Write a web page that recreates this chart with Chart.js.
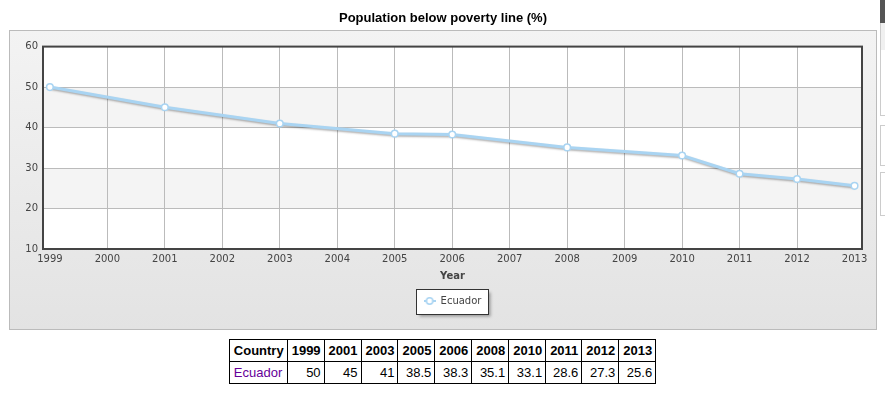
<!DOCTYPE html>
<html>
<head>
<meta charset="utf-8">
<script src="https://cdn.jsdelivr.net/npm/chart.js@4/dist/chart.umd.min.js"></script>
<style>
body { margin:0; background:#fff; width:885px; height:396px; overflow:hidden; position:relative; font-family:"Liberation Sans", Arial, sans-serif; }
#panel { position:absolute; left:9px; top:30px; width:866px; height:298px; border:1px solid #bbb; background:linear-gradient(#f3f3f3, #e3e3e3); }
#wrap { position:absolute; left:0; top:0; width:885px; height:330px; }
#tbl { position:absolute; left:0; top:339px; width:885px; }
table { margin:0 auto; border-collapse:collapse; font-size:13px; color:#000; }
th, td { border:1px solid #000; padding:2px 3px 2px 4px; line-height:17px; }
th { font-weight:bold; text-align:center; }
td { text-align:right; }
td.c { text-align:left; color:#660099; }
.edge { position:absolute; left:880px; width:5px; box-sizing:border-box; }
</style>
</head>
<body>
<div class="edge" style="top:0;height:23px;background:#555"></div>
<div class="edge" style="top:23px;height:93px;border-left:1px solid #ccc;border-bottom:1px solid #ccc;background:linear-gradient(#f0f0f0 0,#f0f0f0 27px,#fff 27px)"></div>
<div class="edge" style="top:125px;height:41px;border:1px solid #ccc;border-right:none"></div>
<div class="edge" style="top:172px;height:44px;border:1px solid #ccc;border-right:none"></div>
<div id="panel"></div>
<div id="wrap"><canvas id="chart" width="885" height="330"></canvas></div>
<div id="tbl"></div>
<script>
// ===== DATA =====
const seriesName = 'Ecuador';
const years = [1999, 2001, 2003, 2005, 2006, 2008, 2010, 2011, 2012, 2013];
const values = [50, 45, 41, 38.5, 38.3, 35.1, 33.1, 28.6, 27.3, 25.6];
const xTicks = [1999, 2000, 2001, 2002, 2003, 2004, 2005, 2006, 2007, 2008, 2009, 2010, 2011, 2012, 2013];
const yTicks = [10, 20, 30, 40, 50, 60];

const LINE = '#a9d4f2';
const TICK_FONT = { family: 'DejaVu Sans', size: 10 };

// legend marker: short line with a hollow circle
const marker = document.createElement('canvas');
marker.width = 12; marker.height = 10;
(function () {
  const c = marker.getContext('2d');
  c.strokeStyle = LINE; c.lineWidth = 2;
  c.beginPath(); c.moveTo(0, 5); c.lineTo(12, 5); c.stroke();
  c.fillStyle = '#fff'; c.lineWidth = 1.5;
  c.beginPath(); c.arc(6, 5, 3.2, 0, Math.PI * 2); c.fill(); c.stroke();
})();

// backgrounds, plot frame, legend box, line shadow
const decor = {
  id: 'decor',
  beforeDraw(chart) {
    const { ctx, chartArea: a, scales: { y } } = chart;
    ctx.save();
    ctx.fillStyle = '#fff';
    ctx.fillRect(a.left, a.top, a.width, a.height);
    ctx.fillStyle = '#f4f4f4';
    for (let i = 1; i < yTicks.length - 1; i += 2) {
      const t = y.getPixelForValue(yTicks[i + 1]);
      const b = y.getPixelForValue(yTicks[i]);
      ctx.fillRect(a.left, t, a.width, b - t);
    }
    const hb = chart.legend.legendHitBoxes[0];
    if (hb) {
      const x = Math.round(hb.left - 7.5) + 0.5, yy = Math.round(hb.top - 7.5) + 0.5;
      const w = Math.round(hb.width + 14), h = Math.round(hb.height + 15);
      ctx.shadowColor = 'rgba(0,0,0,0.35)';
      ctx.shadowOffsetX = 2; ctx.shadowOffsetY = 2; ctx.shadowBlur = 3;
      ctx.fillStyle = '#fff';
      ctx.fillRect(x, yy, w, h);
      ctx.shadowColor = 'transparent';
      ctx.strokeStyle = '#333'; ctx.lineWidth = 1;
      ctx.strokeRect(x, yy, w, h);
    }
    ctx.restore();
  },
  beforeDatasetsDraw(chart) {
    const { ctx, chartArea: a } = chart;
    ctx.save();
    ctx.strokeStyle = '#444'; ctx.lineWidth = 2;
    ctx.strokeRect(a.left, a.top, a.width, a.height);
    ctx.restore();
  },
  beforeDatasetDraw(chart, args) {
    // shadow under the line only, not the points
    const line = args.meta.dataset;
    if (line && !line._shadowed) {
      const orig = line.draw;
      line.draw = function (ctx, area) {
        ctx.save();
        ctx.shadowColor = 'rgba(0,0,0,0.3)';
        ctx.shadowOffsetX = 1; ctx.shadowOffsetY = 1.5; ctx.shadowBlur = 2;
        orig.call(this, ctx, area);
        ctx.restore();
      };
      line._shadowed = true;
    }
  }
};

new Chart(document.getElementById('chart'), {
  type: 'line',
  data: {
    datasets: [{
      label: seriesName,
      data: years.map((yr, i) => ({ x: yr, y: values[i] })),
      borderColor: LINE,
      borderWidth: 3,
      pointRadius: 3.3,
      pointBorderWidth: 1.5,
      pointBackgroundColor: '#fff',
      pointBorderColor: LINE,
      tension: 0
    }]
  },
  options: {
    responsive: false,
    animation: false,
    layout: { padding: { left: 24, right: 23, top: 0, bottom: 14 } },
    plugins: {
      title: {
        display: true,
        text: 'Population below poverty line (%)',
        color: '#000',
        font: { family: 'Liberation Sans', size: 13, weight: 'bold' },
        padding: { top: 11, bottom: 20 }
      },
      legend: {
        position: 'bottom',
        fullSize: false,
        labels: {
          usePointStyle: true,
          pointStyle: marker,
          pointStyleWidth: 12,
          color: '#444',
          font: { family: 'DejaVu Sans', size: 10 },
          padding: 10
        }
      },
      tooltip: { enabled: false }
    },
    scales: {
      x: {
        type: 'linear',
        min: 1998.88,
        max: 2013.13,
        afterBuildTicks: s => { s.ticks = xTicks.map(v => ({ value: v })); },
        afterFit: s => { s.height = 37; },
        ticks: { color: '#444', font: TICK_FONT, padding: 4, maxRotation: 0, autoSkip: false, callback: v => String(v) },
        grid: {
          color: c => (c.tick && (c.tick.value === xTicks[0] || c.tick.value === xTicks[xTicks.length - 1])) ? 'rgba(0,0,0,0)' : '#bbb',
          drawTicks: false
        },
        border: { display: false },
        title: { display: true, text: 'Year', color: '#444', font: { family: 'DejaVu Sans', size: 10, weight: 'bold' }, padding: { top: 4, bottom: 4 } }
      },
      y: {
        min: 10,
        max: 60,
        afterBuildTicks: s => { s.ticks = yTicks.map(v => ({ value: v })); },
        afterFit: s => { s.width = 19; },
        ticks: { color: '#444', font: TICK_FONT, padding: 5 },
        grid: { color: '#bbb', drawTicks: false },
        border: { display: false }
      }
    }
  },
  plugins: [decor]
});

// data table under the chart
let html = '<table><tr><th>Country</th>' + years.map(y => '<th>' + y + '</th>').join('') + '</tr>';
html += '<tr><td class="c">' + seriesName + '</td>' + values.map(v => '<td>' + v + '</td>').join('') + '</tr></table>';
document.getElementById('tbl').innerHTML = html;
</script>
</body>
</html>
